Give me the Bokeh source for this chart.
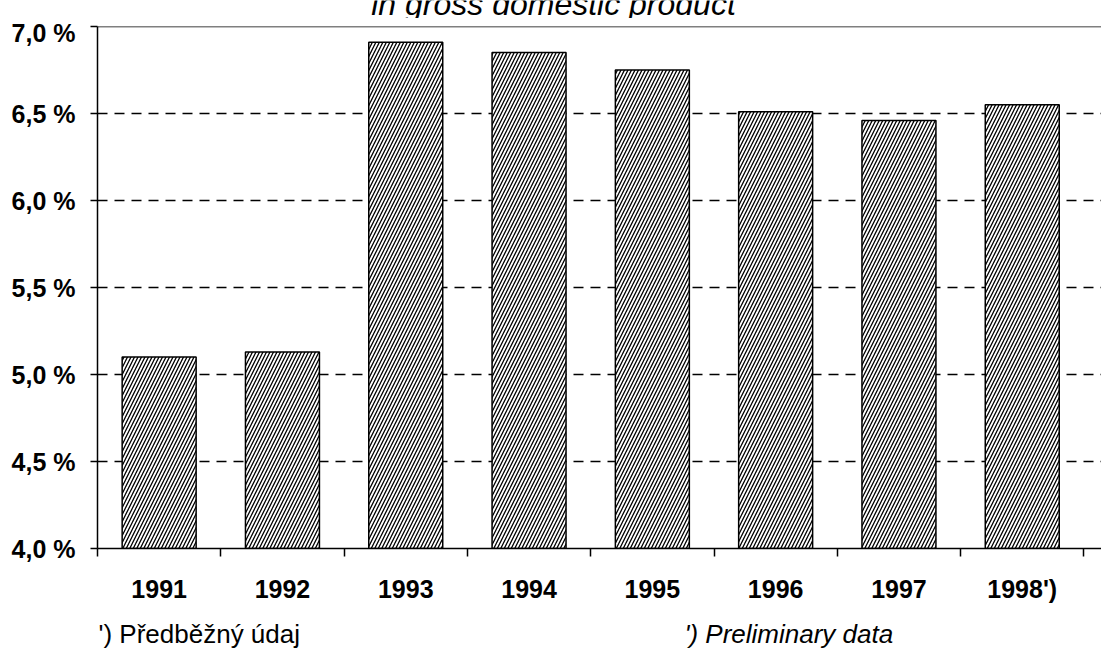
from bokeh.plotting import figure
from bokeh.layouts import column
from bokeh.models import FixedTicker, Range1d, Span
from bokeh.core.properties import value
from bokeh.embed import file_html
from bokeh.resources import INLINE

years = ["1991", "1992", "1993", "1994", "1995", "1996", "1997", "1998')"]
values = [5.10, 5.13, 6.91, 6.85, 6.75, 6.51, 6.46, 6.55]
y_ticks = [4.0, 4.5, 5.0, 5.5, 6.0, 6.5, 7.0]
y_tick_labels = ["4,0 %", "4,5 %", "5,0 %", "5,5 %", "6,0 %", "6,5 %", "7,0 %"]
title_text = "in gross domestic product"
note_cz = "') Předběžný údaj"
note_en = "') Preliminary data"

FONT = "Liberation Sans"
n = len(years)
centers = [i + 0.5 for i in range(n)]
bounds = [float(i) for i in range(n + 1)]

W = 1101
LEFT = 97
TOP_H, MAIN_H, BOT_H = 18, 602, 28


def text_fig(h):
    # frame is aligned with the main chart's frame (x from LEFT to W)
    f = figure(width=W, height=h, x_range=Range1d(LEFT, W), y_range=Range1d(0, h),
               output_backend="svg", toolbar_location=None,
               x_axis_type=None, y_axis_type=None, min_border=0)
    f.outline_line_color = None
    f.grid.visible = False
    return f


# top: title, partly cut at the top edge
top = text_fig(TOP_H)
top.text(x=[553], y=[TOP_H - 3], text=[title_text], text_align="center",
         text_baseline="alphabetic", text_font=value(FONT), text_font_style="italic",
         text_font_size="32px", text_color="black")

# main chart
p = figure(width=W, height=MAIN_H, x_range=Range1d(0, (W - LEFT) / 123.3), y_range=Range1d(4.0, 7.0),
           output_backend="svg", toolbar_location=None,
           min_border_left=LEFT, min_border_right=0, min_border_top=26 - TOP_H,
           min_border_bottom=TOP_H + MAIN_H - 548)
p.outline_line_color = None

p.xgrid.visible = False
p.ygrid.ticker = FixedTicker(ticks=[4.5, 5.0, 5.5, 6.0, 6.5])
p.ygrid.grid_line_color = "black"
p.ygrid.grid_line_width = 1.5
p.ygrid.grid_line_dash = "10 7"
p.add_layout(Span(location=7.0, dimension="width", line_color="black", line_width=1.5))

p.vbar(x=centers, top=values, bottom=4.0, width=0.6,
       fill_color="white", line_color="black", line_width=1.5,
       hatch_pattern="/", hatch_color="black", hatch_scale=7, hatch_weight=1.3)

xa = p.xaxis[0]
xa.ticker = FixedTicker(ticks=centers, minor_ticks=bounds)
xa.major_label_overrides = {c: y for c, y in zip(centers, years)}
xa.major_tick_line_color = None
xa.major_tick_out = 0
xa.major_tick_in = 0
xa.minor_tick_line_color = "black"
xa.minor_tick_line_width = 1.5
xa.minor_tick_out = 8
xa.minor_tick_in = 0
xa.axis_line_color = "black"
xa.axis_line_width = 1.5
xa.major_label_text_font = FONT
xa.major_label_text_font_style = "bold"
xa.major_label_text_font_size = "25px"
xa.major_label_text_color = "black"
xa.major_label_standoff = 18

ya = p.yaxis[0]
ya.ticker = FixedTicker(ticks=y_ticks)
ya.major_label_overrides = {t: l for t, l in zip(y_ticks, y_tick_labels)}
ya.minor_tick_line_color = None
ya.major_tick_line_color = "black"
ya.major_tick_line_width = 1.5
ya.major_tick_out = 7
ya.major_tick_in = 0
ya.axis_line_color = "black"
ya.axis_line_width = 1.5
ya.major_label_text_font = FONT
ya.major_label_text_font_style = "bold"
ya.major_label_text_font_size = "25px"
ya.major_label_text_color = "black"
ya.major_label_standoff = 15

# bottom: notes
bot = text_fig(BOT_H)
base = 15
bot.text(x=[98], y=[base], text=[note_cz], text_align="left", text_baseline="alphabetic",
         text_font=value(FONT), text_font_size="26px", text_color="black")
bot.text(x=[684], y=[base], text=[note_en], text_align="left", text_baseline="alphabetic",
         text_font=value(FONT), text_font_style="italic", text_font_size="26px", text_color="black")

layout = column(top, p, bot, spacing=0)
open("out.html", "w").write(file_html(layout, INLINE))
